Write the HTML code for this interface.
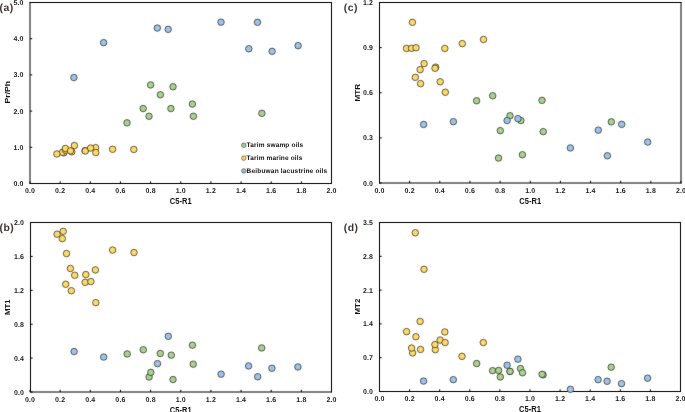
<!DOCTYPE html>
<html><head><meta charset="utf-8"><style>
html,body{margin:0;padding:0;background:#fff;}
svg{display:block;will-change:transform;}
text{font-family:"Liberation Sans",sans-serif;}
.t{font-size:7.0px;font-weight:bold;fill:#1a1a1a;letter-spacing:0.15px;text-rendering:geometricPrecision;}
.l{font-size:8.6px;font-weight:bold;fill:#111;}
.yl{font-size:8.0px;}
.lg{font-size:6.5px;font-weight:bold;fill:#111;text-rendering:geometricPrecision;}
.p{font-size:10.4px;font-weight:bold;fill:#3a3431;letter-spacing:0.5px;text-rendering:geometricPrecision;}
</style></head><body>
<svg width="685" height="412" viewBox="0 0 685 412">
<defs><filter id="soft" x="0" y="0" width="685" height="412" filterUnits="userSpaceOnUse" color-interpolation-filters="sRGB"><feConvolveMatrix order="3" kernelMatrix="0.0049 0.0602 0.0049 0.0602 0.7396 0.0602 0.0049 0.0602 0.0049" divisor="1" edgeMode="duplicate"/></filter></defs>
<rect width="685" height="412" fill="#fff"/>
<g filter="url(#soft)">
<path d="M30.0 2.0V184.0M331.5 2.0V184.0M29.5 2.5H332.0M29.5 183.5H332.0" stroke="#000" stroke-width="1" fill="none"/>
<line x1="30.00" y1="183.5" x2="30.00" y2="181.3" stroke="#000" stroke-width="1"/>
<line x1="60.15" y1="183.5" x2="60.15" y2="181.3" stroke="#000" stroke-width="1"/>
<line x1="90.30" y1="183.5" x2="90.30" y2="181.3" stroke="#000" stroke-width="1"/>
<line x1="120.45" y1="183.5" x2="120.45" y2="181.3" stroke="#000" stroke-width="1"/>
<line x1="150.60" y1="183.5" x2="150.60" y2="181.3" stroke="#000" stroke-width="1"/>
<line x1="180.75" y1="183.5" x2="180.75" y2="181.3" stroke="#000" stroke-width="1"/>
<line x1="210.90" y1="183.5" x2="210.90" y2="181.3" stroke="#000" stroke-width="1"/>
<line x1="241.05" y1="183.5" x2="241.05" y2="181.3" stroke="#000" stroke-width="1"/>
<line x1="271.20" y1="183.5" x2="271.20" y2="181.3" stroke="#000" stroke-width="1"/>
<line x1="301.35" y1="183.5" x2="301.35" y2="181.3" stroke="#000" stroke-width="1"/>
<line x1="331.50" y1="183.5" x2="331.50" y2="181.3" stroke="#000" stroke-width="1"/>
<line x1="30.0" y1="183.50" x2="32.2" y2="183.50" stroke="#000" stroke-width="1"/>
<line x1="30.0" y1="147.30" x2="32.2" y2="147.30" stroke="#000" stroke-width="1"/>
<line x1="30.0" y1="111.10" x2="32.2" y2="111.10" stroke="#000" stroke-width="1"/>
<line x1="30.0" y1="74.90" x2="32.2" y2="74.90" stroke="#000" stroke-width="1"/>
<line x1="30.0" y1="38.70" x2="32.2" y2="38.70" stroke="#000" stroke-width="1"/>
<line x1="30.0" y1="2.50" x2="32.2" y2="2.50" stroke="#000" stroke-width="1"/>
<circle cx="150.6" cy="84.95" r="3.25" fill="#A9D18E" stroke="#262626" stroke-width="0.7"/>
<circle cx="173.0" cy="86.75" r="3.25" fill="#A9D18E" stroke="#262626" stroke-width="0.7"/>
<circle cx="160.4" cy="94.75" r="3.25" fill="#A9D18E" stroke="#262626" stroke-width="0.7"/>
<circle cx="143.2" cy="108.55" r="3.25" fill="#A9D18E" stroke="#262626" stroke-width="0.7"/>
<circle cx="170.9" cy="108.55" r="3.25" fill="#A9D18E" stroke="#262626" stroke-width="0.7"/>
<circle cx="192.4" cy="104.05" r="3.25" fill="#A9D18E" stroke="#262626" stroke-width="0.7"/>
<circle cx="149.0" cy="116.25" r="3.25" fill="#A9D18E" stroke="#262626" stroke-width="0.7"/>
<circle cx="193.4" cy="116.25" r="3.25" fill="#A9D18E" stroke="#262626" stroke-width="0.7"/>
<circle cx="127.0" cy="122.85" r="3.25" fill="#A9D18E" stroke="#262626" stroke-width="0.7"/>
<circle cx="261.9" cy="113.35" r="3.25" fill="#A9D18E" stroke="#262626" stroke-width="0.7"/>
<circle cx="63.8" cy="152.85" r="3.25" fill="#FFD966" stroke="#262626" stroke-width="0.7"/>
<circle cx="62.5" cy="152.25" r="3.25" fill="#FFD966" stroke="#262626" stroke-width="0.7"/>
<circle cx="65.5" cy="150.15" r="3.25" fill="#FFD966" stroke="#262626" stroke-width="0.7"/>
<circle cx="71.8" cy="151.85" r="3.25" fill="#FFD966" stroke="#262626" stroke-width="0.7"/>
<circle cx="56.9" cy="153.95" r="3.25" fill="#FFD966" stroke="#262626" stroke-width="0.7"/>
<circle cx="65.4" cy="148.45" r="3.25" fill="#FFD966" stroke="#262626" stroke-width="0.7"/>
<circle cx="70.5" cy="150.85" r="3.25" fill="#FFD966" stroke="#262626" stroke-width="0.7"/>
<circle cx="74.4" cy="145.55" r="3.25" fill="#FFD966" stroke="#262626" stroke-width="0.7"/>
<circle cx="85.0" cy="150.65" r="3.25" fill="#FFD966" stroke="#262626" stroke-width="0.7"/>
<circle cx="85.3" cy="150.95" r="3.25" fill="#FFD966" stroke="#262626" stroke-width="0.7"/>
<circle cx="95.6" cy="147.65" r="3.25" fill="#FFD966" stroke="#262626" stroke-width="0.7"/>
<circle cx="90.6" cy="148.05" r="3.25" fill="#FFD966" stroke="#262626" stroke-width="0.7"/>
<circle cx="95.8" cy="152.55" r="3.25" fill="#FFD966" stroke="#262626" stroke-width="0.7"/>
<circle cx="112.6" cy="149.25" r="3.25" fill="#FFD966" stroke="#262626" stroke-width="0.7"/>
<circle cx="133.8" cy="149.45" r="3.25" fill="#FFD966" stroke="#262626" stroke-width="0.7"/>
<circle cx="73.9" cy="77.55" r="3.25" fill="#9DC3E6" stroke="#262626" stroke-width="0.7"/>
<circle cx="103.6" cy="42.65" r="3.25" fill="#9DC3E6" stroke="#262626" stroke-width="0.7"/>
<circle cx="157.3" cy="28.05" r="3.25" fill="#9DC3E6" stroke="#262626" stroke-width="0.7"/>
<circle cx="168.2" cy="29.35" r="3.25" fill="#9DC3E6" stroke="#262626" stroke-width="0.7"/>
<circle cx="221.0" cy="22.15" r="3.25" fill="#9DC3E6" stroke="#262626" stroke-width="0.7"/>
<circle cx="257.5" cy="22.35" r="3.25" fill="#9DC3E6" stroke="#262626" stroke-width="0.7"/>
<circle cx="248.8" cy="48.75" r="3.25" fill="#9DC3E6" stroke="#262626" stroke-width="0.7"/>
<circle cx="272.1" cy="51.35" r="3.25" fill="#9DC3E6" stroke="#262626" stroke-width="0.7"/>
<circle cx="298.1" cy="45.65" r="3.25" fill="#9DC3E6" stroke="#262626" stroke-width="0.7"/>
<path d="M30.5 222.0V392.5M331.5 222.0V392.5M30.0 222.5H332.0M30.0 392.0H332.0" stroke="#000" stroke-width="1" fill="none"/>
<line x1="30.00" y1="392.0" x2="30.00" y2="389.8" stroke="#000" stroke-width="1"/>
<line x1="60.15" y1="392.0" x2="60.15" y2="389.8" stroke="#000" stroke-width="1"/>
<line x1="90.30" y1="392.0" x2="90.30" y2="389.8" stroke="#000" stroke-width="1"/>
<line x1="120.45" y1="392.0" x2="120.45" y2="389.8" stroke="#000" stroke-width="1"/>
<line x1="150.60" y1="392.0" x2="150.60" y2="389.8" stroke="#000" stroke-width="1"/>
<line x1="180.75" y1="392.0" x2="180.75" y2="389.8" stroke="#000" stroke-width="1"/>
<line x1="210.90" y1="392.0" x2="210.90" y2="389.8" stroke="#000" stroke-width="1"/>
<line x1="241.05" y1="392.0" x2="241.05" y2="389.8" stroke="#000" stroke-width="1"/>
<line x1="271.20" y1="392.0" x2="271.20" y2="389.8" stroke="#000" stroke-width="1"/>
<line x1="301.35" y1="392.0" x2="301.35" y2="389.8" stroke="#000" stroke-width="1"/>
<line x1="331.50" y1="392.0" x2="331.50" y2="389.8" stroke="#000" stroke-width="1"/>
<line x1="30.5" y1="392.00" x2="32.7" y2="392.00" stroke="#000" stroke-width="1"/>
<line x1="30.5" y1="358.10" x2="32.7" y2="358.10" stroke="#000" stroke-width="1"/>
<line x1="30.5" y1="324.20" x2="32.7" y2="324.20" stroke="#000" stroke-width="1"/>
<line x1="30.5" y1="290.30" x2="32.7" y2="290.30" stroke="#000" stroke-width="1"/>
<line x1="30.5" y1="256.40" x2="32.7" y2="256.40" stroke="#000" stroke-width="1"/>
<line x1="30.5" y1="222.50" x2="32.7" y2="222.50" stroke="#000" stroke-width="1"/>
<circle cx="127.2" cy="353.95" r="3.25" fill="#A9D18E" stroke="#262626" stroke-width="0.7"/>
<circle cx="143.3" cy="349.75" r="3.25" fill="#A9D18E" stroke="#262626" stroke-width="0.7"/>
<circle cx="160.3" cy="353.45" r="3.25" fill="#A9D18E" stroke="#262626" stroke-width="0.7"/>
<circle cx="171.3" cy="355.15" r="3.25" fill="#A9D18E" stroke="#262626" stroke-width="0.7"/>
<circle cx="173.0" cy="379.55" r="3.25" fill="#A9D18E" stroke="#262626" stroke-width="0.7"/>
<circle cx="149.1" cy="377.05" r="3.25" fill="#A9D18E" stroke="#262626" stroke-width="0.7"/>
<circle cx="150.8" cy="372.35" r="3.25" fill="#A9D18E" stroke="#262626" stroke-width="0.7"/>
<circle cx="192.4" cy="345.15" r="3.25" fill="#A9D18E" stroke="#262626" stroke-width="0.7"/>
<circle cx="193.2" cy="364.15" r="3.25" fill="#A9D18E" stroke="#262626" stroke-width="0.7"/>
<circle cx="261.7" cy="347.95" r="3.25" fill="#A9D18E" stroke="#262626" stroke-width="0.7"/>
<circle cx="57.1" cy="234.15" r="3.25" fill="#FFD966" stroke="#262626" stroke-width="0.7"/>
<circle cx="63.2" cy="231.35" r="3.25" fill="#FFD966" stroke="#262626" stroke-width="0.7"/>
<circle cx="62.3" cy="238.65" r="3.25" fill="#FFD966" stroke="#262626" stroke-width="0.7"/>
<circle cx="66.5" cy="253.55" r="3.25" fill="#FFD966" stroke="#262626" stroke-width="0.7"/>
<circle cx="112.6" cy="250.05" r="3.25" fill="#FFD966" stroke="#262626" stroke-width="0.7"/>
<circle cx="134.0" cy="252.55" r="3.25" fill="#FFD966" stroke="#262626" stroke-width="0.7"/>
<circle cx="70.4" cy="268.45" r="3.25" fill="#FFD966" stroke="#262626" stroke-width="0.7"/>
<circle cx="74.7" cy="275.25" r="3.25" fill="#FFD966" stroke="#262626" stroke-width="0.7"/>
<circle cx="85.8" cy="274.55" r="3.25" fill="#FFD966" stroke="#262626" stroke-width="0.7"/>
<circle cx="95.4" cy="269.95" r="3.25" fill="#FFD966" stroke="#262626" stroke-width="0.7"/>
<circle cx="65.7" cy="284.25" r="3.25" fill="#FFD966" stroke="#262626" stroke-width="0.7"/>
<circle cx="71.3" cy="290.75" r="3.25" fill="#FFD966" stroke="#262626" stroke-width="0.7"/>
<circle cx="85.2" cy="282.35" r="3.25" fill="#FFD966" stroke="#262626" stroke-width="0.7"/>
<circle cx="90.9" cy="281.55" r="3.25" fill="#FFD966" stroke="#262626" stroke-width="0.7"/>
<circle cx="95.8" cy="302.65" r="3.25" fill="#FFD966" stroke="#262626" stroke-width="0.7"/>
<circle cx="74.1" cy="351.55" r="3.25" fill="#9DC3E6" stroke="#262626" stroke-width="0.7"/>
<circle cx="103.7" cy="357.05" r="3.25" fill="#9DC3E6" stroke="#262626" stroke-width="0.7"/>
<circle cx="157.5" cy="363.65" r="3.25" fill="#9DC3E6" stroke="#262626" stroke-width="0.7"/>
<circle cx="168.3" cy="336.35" r="3.25" fill="#9DC3E6" stroke="#262626" stroke-width="0.7"/>
<circle cx="221.1" cy="374.15" r="3.25" fill="#9DC3E6" stroke="#262626" stroke-width="0.7"/>
<circle cx="257.7" cy="376.75" r="3.25" fill="#9DC3E6" stroke="#262626" stroke-width="0.7"/>
<circle cx="248.6" cy="365.95" r="3.25" fill="#9DC3E6" stroke="#262626" stroke-width="0.7"/>
<circle cx="271.9" cy="368.25" r="3.25" fill="#9DC3E6" stroke="#262626" stroke-width="0.7"/>
<circle cx="297.9" cy="366.95" r="3.25" fill="#9DC3E6" stroke="#262626" stroke-width="0.7"/>
<path d="M379.5 2.0V183.5M681.0 2.0V183.5M379.0 2.5H681.5M379.0 183.0H681.5" stroke="#000" stroke-width="1" fill="none"/>
<line x1="379.50" y1="183.0" x2="379.50" y2="180.8" stroke="#000" stroke-width="1"/>
<line x1="409.65" y1="183.0" x2="409.65" y2="180.8" stroke="#000" stroke-width="1"/>
<line x1="439.80" y1="183.0" x2="439.80" y2="180.8" stroke="#000" stroke-width="1"/>
<line x1="469.95" y1="183.0" x2="469.95" y2="180.8" stroke="#000" stroke-width="1"/>
<line x1="500.10" y1="183.0" x2="500.10" y2="180.8" stroke="#000" stroke-width="1"/>
<line x1="530.25" y1="183.0" x2="530.25" y2="180.8" stroke="#000" stroke-width="1"/>
<line x1="560.40" y1="183.0" x2="560.40" y2="180.8" stroke="#000" stroke-width="1"/>
<line x1="590.55" y1="183.0" x2="590.55" y2="180.8" stroke="#000" stroke-width="1"/>
<line x1="620.70" y1="183.0" x2="620.70" y2="180.8" stroke="#000" stroke-width="1"/>
<line x1="650.85" y1="183.0" x2="650.85" y2="180.8" stroke="#000" stroke-width="1"/>
<line x1="681.00" y1="183.0" x2="681.00" y2="180.8" stroke="#000" stroke-width="1"/>
<line x1="379.5" y1="183.00" x2="381.7" y2="183.00" stroke="#000" stroke-width="1"/>
<line x1="379.5" y1="137.88" x2="381.7" y2="137.88" stroke="#000" stroke-width="1"/>
<line x1="379.5" y1="92.75" x2="381.7" y2="92.75" stroke="#000" stroke-width="1"/>
<line x1="379.5" y1="47.62" x2="381.7" y2="47.62" stroke="#000" stroke-width="1"/>
<line x1="379.5" y1="2.50" x2="381.7" y2="2.50" stroke="#000" stroke-width="1"/>
<circle cx="476.6" cy="100.75" r="3.25" fill="#A9D18E" stroke="#262626" stroke-width="0.7"/>
<circle cx="492.7" cy="95.75" r="3.25" fill="#A9D18E" stroke="#262626" stroke-width="0.7"/>
<circle cx="542.0" cy="100.35" r="3.25" fill="#A9D18E" stroke="#262626" stroke-width="0.7"/>
<circle cx="510.0" cy="115.75" r="3.25" fill="#A9D18E" stroke="#262626" stroke-width="0.7"/>
<circle cx="520.9" cy="120.55" r="3.25" fill="#A9D18E" stroke="#262626" stroke-width="0.7"/>
<circle cx="500.3" cy="130.65" r="3.25" fill="#A9D18E" stroke="#262626" stroke-width="0.7"/>
<circle cx="543.2" cy="131.65" r="3.25" fill="#A9D18E" stroke="#262626" stroke-width="0.7"/>
<circle cx="498.5" cy="158.05" r="3.25" fill="#A9D18E" stroke="#262626" stroke-width="0.7"/>
<circle cx="522.4" cy="154.75" r="3.25" fill="#A9D18E" stroke="#262626" stroke-width="0.7"/>
<circle cx="611.3" cy="121.85" r="3.25" fill="#A9D18E" stroke="#262626" stroke-width="0.7"/>
<circle cx="412.4" cy="22.35" r="3.25" fill="#FFD966" stroke="#262626" stroke-width="0.7"/>
<circle cx="406.5" cy="48.45" r="3.25" fill="#FFD966" stroke="#262626" stroke-width="0.7"/>
<circle cx="411.5" cy="48.25" r="3.25" fill="#FFD966" stroke="#262626" stroke-width="0.7"/>
<circle cx="416.0" cy="47.75" r="3.25" fill="#FFD966" stroke="#262626" stroke-width="0.7"/>
<circle cx="444.8" cy="48.45" r="3.25" fill="#FFD966" stroke="#262626" stroke-width="0.7"/>
<circle cx="462.3" cy="43.65" r="3.25" fill="#FFD966" stroke="#262626" stroke-width="0.7"/>
<circle cx="483.5" cy="39.45" r="3.25" fill="#FFD966" stroke="#262626" stroke-width="0.7"/>
<circle cx="424.1" cy="63.65" r="3.25" fill="#FFD966" stroke="#262626" stroke-width="0.7"/>
<circle cx="420.1" cy="69.65" r="3.25" fill="#FFD966" stroke="#262626" stroke-width="0.7"/>
<circle cx="435.7" cy="67.15" r="3.25" fill="#FFD966" stroke="#262626" stroke-width="0.7"/>
<circle cx="435.0" cy="68.25" r="3.25" fill="#FFD966" stroke="#262626" stroke-width="0.7"/>
<circle cx="415.3" cy="77.35" r="3.25" fill="#FFD966" stroke="#262626" stroke-width="0.7"/>
<circle cx="420.6" cy="83.65" r="3.25" fill="#FFD966" stroke="#262626" stroke-width="0.7"/>
<circle cx="440.2" cy="81.75" r="3.25" fill="#FFD966" stroke="#262626" stroke-width="0.7"/>
<circle cx="445.3" cy="92.25" r="3.25" fill="#FFD966" stroke="#262626" stroke-width="0.7"/>
<circle cx="423.6" cy="124.45" r="3.25" fill="#9DC3E6" stroke="#262626" stroke-width="0.7"/>
<circle cx="453.4" cy="121.65" r="3.25" fill="#9DC3E6" stroke="#262626" stroke-width="0.7"/>
<circle cx="507.1" cy="120.55" r="3.25" fill="#9DC3E6" stroke="#262626" stroke-width="0.7"/>
<circle cx="517.9" cy="118.65" r="3.25" fill="#9DC3E6" stroke="#262626" stroke-width="0.7"/>
<circle cx="570.4" cy="147.95" r="3.25" fill="#9DC3E6" stroke="#262626" stroke-width="0.7"/>
<circle cx="607.4" cy="155.75" r="3.25" fill="#9DC3E6" stroke="#262626" stroke-width="0.7"/>
<circle cx="598.3" cy="130.15" r="3.25" fill="#9DC3E6" stroke="#262626" stroke-width="0.7"/>
<circle cx="621.7" cy="124.35" r="3.25" fill="#9DC3E6" stroke="#262626" stroke-width="0.7"/>
<circle cx="647.7" cy="142.05" r="3.25" fill="#9DC3E6" stroke="#262626" stroke-width="0.7"/>
<path d="M379.5 222.0V392.0M680.5 222.0V392.0M379.0 222.5H681.0M379.0 391.5H681.0" stroke="#000" stroke-width="1" fill="none"/>
<line x1="379.50" y1="391.5" x2="379.50" y2="389.3" stroke="#000" stroke-width="1"/>
<line x1="409.60" y1="391.5" x2="409.60" y2="389.3" stroke="#000" stroke-width="1"/>
<line x1="439.70" y1="391.5" x2="439.70" y2="389.3" stroke="#000" stroke-width="1"/>
<line x1="469.80" y1="391.5" x2="469.80" y2="389.3" stroke="#000" stroke-width="1"/>
<line x1="499.90" y1="391.5" x2="499.90" y2="389.3" stroke="#000" stroke-width="1"/>
<line x1="530.00" y1="391.5" x2="530.00" y2="389.3" stroke="#000" stroke-width="1"/>
<line x1="560.10" y1="391.5" x2="560.10" y2="389.3" stroke="#000" stroke-width="1"/>
<line x1="590.20" y1="391.5" x2="590.20" y2="389.3" stroke="#000" stroke-width="1"/>
<line x1="620.30" y1="391.5" x2="620.30" y2="389.3" stroke="#000" stroke-width="1"/>
<line x1="650.40" y1="391.5" x2="650.40" y2="389.3" stroke="#000" stroke-width="1"/>
<line x1="680.50" y1="391.5" x2="680.50" y2="389.3" stroke="#000" stroke-width="1"/>
<line x1="379.5" y1="391.50" x2="381.7" y2="391.50" stroke="#000" stroke-width="1"/>
<line x1="379.5" y1="357.70" x2="381.7" y2="357.70" stroke="#000" stroke-width="1"/>
<line x1="379.5" y1="323.90" x2="381.7" y2="323.90" stroke="#000" stroke-width="1"/>
<line x1="379.5" y1="290.10" x2="381.7" y2="290.10" stroke="#000" stroke-width="1"/>
<line x1="379.5" y1="256.30" x2="381.7" y2="256.30" stroke="#000" stroke-width="1"/>
<line x1="379.5" y1="222.50" x2="381.7" y2="222.50" stroke="#000" stroke-width="1"/>
<circle cx="476.7" cy="363.55" r="3.25" fill="#A9D18E" stroke="#262626" stroke-width="0.7"/>
<circle cx="492.6" cy="370.65" r="3.25" fill="#A9D18E" stroke="#262626" stroke-width="0.7"/>
<circle cx="498.6" cy="370.45" r="3.25" fill="#A9D18E" stroke="#262626" stroke-width="0.7"/>
<circle cx="500.3" cy="376.95" r="3.25" fill="#A9D18E" stroke="#262626" stroke-width="0.7"/>
<circle cx="510.0" cy="371.45" r="3.25" fill="#A9D18E" stroke="#262626" stroke-width="0.7"/>
<circle cx="520.5" cy="368.55" r="3.25" fill="#A9D18E" stroke="#262626" stroke-width="0.7"/>
<circle cx="522.5" cy="372.75" r="3.25" fill="#A9D18E" stroke="#262626" stroke-width="0.7"/>
<circle cx="543.1" cy="374.85" r="3.25" fill="#A9D18E" stroke="#262626" stroke-width="0.7"/>
<circle cx="542.1" cy="374.25" r="3.25" fill="#A9D18E" stroke="#262626" stroke-width="0.7"/>
<circle cx="611.2" cy="367.15" r="3.25" fill="#A9D18E" stroke="#262626" stroke-width="0.7"/>
<circle cx="415.3" cy="232.75" r="3.25" fill="#FFD966" stroke="#262626" stroke-width="0.7"/>
<circle cx="424.0" cy="269.25" r="3.25" fill="#FFD966" stroke="#262626" stroke-width="0.7"/>
<circle cx="420.1" cy="321.45" r="3.25" fill="#FFD966" stroke="#262626" stroke-width="0.7"/>
<circle cx="406.6" cy="331.65" r="3.25" fill="#FFD966" stroke="#262626" stroke-width="0.7"/>
<circle cx="415.9" cy="336.75" r="3.25" fill="#FFD966" stroke="#262626" stroke-width="0.7"/>
<circle cx="444.8" cy="331.95" r="3.25" fill="#FFD966" stroke="#262626" stroke-width="0.7"/>
<circle cx="440.1" cy="340.05" r="3.25" fill="#FFD966" stroke="#262626" stroke-width="0.7"/>
<circle cx="445.1" cy="342.55" r="3.25" fill="#FFD966" stroke="#262626" stroke-width="0.7"/>
<circle cx="435.3" cy="349.65" r="3.25" fill="#FFD966" stroke="#262626" stroke-width="0.7"/>
<circle cx="434.9" cy="344.55" r="3.25" fill="#FFD966" stroke="#262626" stroke-width="0.7"/>
<circle cx="412.6" cy="352.95" r="3.25" fill="#FFD966" stroke="#262626" stroke-width="0.7"/>
<circle cx="411.6" cy="348.05" r="3.25" fill="#FFD966" stroke="#262626" stroke-width="0.7"/>
<circle cx="420.5" cy="349.45" r="3.25" fill="#FFD966" stroke="#262626" stroke-width="0.7"/>
<circle cx="462.0" cy="356.35" r="3.25" fill="#FFD966" stroke="#262626" stroke-width="0.7"/>
<circle cx="483.3" cy="342.55" r="3.25" fill="#FFD966" stroke="#262626" stroke-width="0.7"/>
<circle cx="423.6" cy="381.05" r="3.25" fill="#9DC3E6" stroke="#262626" stroke-width="0.7"/>
<circle cx="453.3" cy="379.65" r="3.25" fill="#9DC3E6" stroke="#262626" stroke-width="0.7"/>
<circle cx="507.1" cy="365.25" r="3.25" fill="#9DC3E6" stroke="#262626" stroke-width="0.7"/>
<circle cx="517.9" cy="359.15" r="3.25" fill="#9DC3E6" stroke="#262626" stroke-width="0.7"/>
<circle cx="570.4" cy="389.35" r="3.25" fill="#9DC3E6" stroke="#262626" stroke-width="0.7"/>
<circle cx="607.1" cy="381.25" r="3.25" fill="#9DC3E6" stroke="#262626" stroke-width="0.7"/>
<circle cx="598.1" cy="379.65" r="3.25" fill="#9DC3E6" stroke="#262626" stroke-width="0.7"/>
<circle cx="621.5" cy="383.65" r="3.25" fill="#9DC3E6" stroke="#262626" stroke-width="0.7"/>
<circle cx="647.6" cy="378.15" r="3.25" fill="#9DC3E6" stroke="#262626" stroke-width="0.7"/>
<circle cx="510.0" cy="371.45" r="3.25" fill="#A9D18E" stroke="#262626" stroke-width="0.7"/>
<circle cx="243.8" cy="145.30" r="2.25" fill="#A9D18E" stroke="#262626" stroke-width="0.55"/>
<circle cx="243.8" cy="158.10" r="2.25" fill="#FFD966" stroke="#262626" stroke-width="0.55"/>
<circle cx="243.8" cy="170.90" r="2.25" fill="#9DC3E6" stroke="#262626" stroke-width="0.55"/>
</g>
<text x="30.00" y="193.10" class="t" text-anchor="middle">0.0</text>
<text x="60.15" y="193.10" class="t" text-anchor="middle">0.2</text>
<text x="90.30" y="193.10" class="t" text-anchor="middle">0.4</text>
<text x="120.45" y="193.10" class="t" text-anchor="middle">0.6</text>
<text x="150.60" y="193.10" class="t" text-anchor="middle">0.8</text>
<text x="180.75" y="193.10" class="t" text-anchor="middle">1.0</text>
<text x="210.90" y="193.10" class="t" text-anchor="middle">1.2</text>
<text x="241.05" y="193.10" class="t" text-anchor="middle">1.4</text>
<text x="271.20" y="193.10" class="t" text-anchor="middle">1.6</text>
<text x="301.35" y="193.10" class="t" text-anchor="middle">1.8</text>
<text x="331.50" y="193.10" class="t" text-anchor="middle">2.0</text>
<text x="23.60" y="186.05" class="t" text-anchor="end">0.0</text>
<text x="23.60" y="149.85" class="t" text-anchor="end">1.0</text>
<text x="23.60" y="113.65" class="t" text-anchor="end">2.0</text>
<text x="23.60" y="77.45" class="t" text-anchor="end">3.0</text>
<text x="23.60" y="41.25" class="t" text-anchor="end">4.0</text>
<text x="23.60" y="5.05" class="t" text-anchor="end">5.0</text>
<text x="169.85" y="204.10" class="l" textLength="21.8" lengthAdjust="spacingAndGlyphs">C5-R1</text>
<text x="10.20" y="92.20" class="l yl" text-anchor="middle" textLength="22.8" lengthAdjust="spacingAndGlyphs" transform="rotate(-90 10.20 92.20)">Pr/Ph</text>
<text x="30.00" y="401.60" class="t" text-anchor="middle">0.0</text>
<text x="60.15" y="401.60" class="t" text-anchor="middle">0.2</text>
<text x="90.30" y="401.60" class="t" text-anchor="middle">0.4</text>
<text x="120.45" y="401.60" class="t" text-anchor="middle">0.6</text>
<text x="150.60" y="401.60" class="t" text-anchor="middle">0.8</text>
<text x="180.75" y="401.60" class="t" text-anchor="middle">1.0</text>
<text x="210.90" y="401.60" class="t" text-anchor="middle">1.2</text>
<text x="241.05" y="401.60" class="t" text-anchor="middle">1.4</text>
<text x="271.20" y="401.60" class="t" text-anchor="middle">1.6</text>
<text x="301.35" y="401.60" class="t" text-anchor="middle">1.8</text>
<text x="331.50" y="401.60" class="t" text-anchor="middle">2.0</text>
<text x="24.10" y="394.55" class="t" text-anchor="end">0.0</text>
<text x="24.10" y="360.65" class="t" text-anchor="end">0.4</text>
<text x="24.10" y="326.75" class="t" text-anchor="end">0.8</text>
<text x="24.10" y="292.85" class="t" text-anchor="end">1.2</text>
<text x="24.10" y="258.95" class="t" text-anchor="end">1.6</text>
<text x="24.10" y="225.05" class="t" text-anchor="end">2.0</text>
<text x="169.85" y="412.60" class="l" textLength="21.8" lengthAdjust="spacingAndGlyphs">C5-R1</text>
<text x="10.00" y="307.25" class="l yl" text-anchor="middle" textLength="15.4" lengthAdjust="spacingAndGlyphs" transform="rotate(-90 10.00 307.25)">MT1</text>
<text x="379.50" y="192.60" class="t" text-anchor="middle">0.0</text>
<text x="409.65" y="192.60" class="t" text-anchor="middle">0.2</text>
<text x="439.80" y="192.60" class="t" text-anchor="middle">0.4</text>
<text x="469.95" y="192.60" class="t" text-anchor="middle">0.6</text>
<text x="500.10" y="192.60" class="t" text-anchor="middle">0.8</text>
<text x="530.25" y="192.60" class="t" text-anchor="middle">1.0</text>
<text x="560.40" y="192.60" class="t" text-anchor="middle">1.2</text>
<text x="590.55" y="192.60" class="t" text-anchor="middle">1.4</text>
<text x="620.70" y="192.60" class="t" text-anchor="middle">1.6</text>
<text x="650.85" y="192.60" class="t" text-anchor="middle">1.8</text>
<text x="681.00" y="192.60" class="t" text-anchor="middle">2.0</text>
<text x="373.10" y="185.55" class="t" text-anchor="end">0.0</text>
<text x="373.10" y="140.43" class="t" text-anchor="end">0.3</text>
<text x="373.10" y="95.30" class="t" text-anchor="end">0.6</text>
<text x="373.10" y="50.17" class="t" text-anchor="end">0.9</text>
<text x="373.10" y="5.05" class="t" text-anchor="end">1.2</text>
<text x="519.35" y="203.60" class="l" textLength="21.8" lengthAdjust="spacingAndGlyphs">C5-R1</text>
<text x="360.30" y="92.75" class="l yl" text-anchor="middle" textLength="17.5" lengthAdjust="spacingAndGlyphs" transform="rotate(-90 360.30 92.75)">MTR</text>
<text x="379.50" y="401.10" class="t" text-anchor="middle">0.0</text>
<text x="409.60" y="401.10" class="t" text-anchor="middle">0.2</text>
<text x="439.70" y="401.10" class="t" text-anchor="middle">0.4</text>
<text x="469.80" y="401.10" class="t" text-anchor="middle">0.6</text>
<text x="499.90" y="401.10" class="t" text-anchor="middle">0.8</text>
<text x="530.00" y="401.10" class="t" text-anchor="middle">1.0</text>
<text x="560.10" y="401.10" class="t" text-anchor="middle">1.2</text>
<text x="590.20" y="401.10" class="t" text-anchor="middle">1.4</text>
<text x="620.30" y="401.10" class="t" text-anchor="middle">1.6</text>
<text x="650.40" y="401.10" class="t" text-anchor="middle">1.8</text>
<text x="680.50" y="401.10" class="t" text-anchor="middle">2.0</text>
<text x="373.10" y="394.05" class="t" text-anchor="end">0.0</text>
<text x="373.10" y="360.25" class="t" text-anchor="end">0.7</text>
<text x="373.10" y="326.45" class="t" text-anchor="end">1.4</text>
<text x="373.10" y="292.65" class="t" text-anchor="end">2.1</text>
<text x="373.10" y="258.85" class="t" text-anchor="end">2.8</text>
<text x="373.10" y="225.05" class="t" text-anchor="end">3.5</text>
<text x="519.10" y="412.10" class="l" textLength="21.8" lengthAdjust="spacingAndGlyphs">C5-R1</text>
<text x="360.30" y="306.60" class="l yl" text-anchor="middle" textLength="15.8" lengthAdjust="spacingAndGlyphs" transform="rotate(-90 360.30 306.60)">MT2</text>
<text x="246.6" y="147.20" class="lg" textLength="56.6" lengthAdjust="spacing">Tarim swamp oils</text>
<text x="246.6" y="160.00" class="lg" textLength="55.8" lengthAdjust="spacing">Tarim marine oils</text>
<text x="246.6" y="172.80" class="lg" textLength="80.6" lengthAdjust="spacing">Beibuwan lacustrine oils</text>
<text x="-0.5" y="10.8" class="p">(a)</text>
<text x="-0.5" y="230.6" class="p">(b)</text>
<text x="343.8" y="10.8" class="p">(c)</text>
<text x="343.8" y="230.6" class="p">(d)</text>
</svg>
</body></html>
